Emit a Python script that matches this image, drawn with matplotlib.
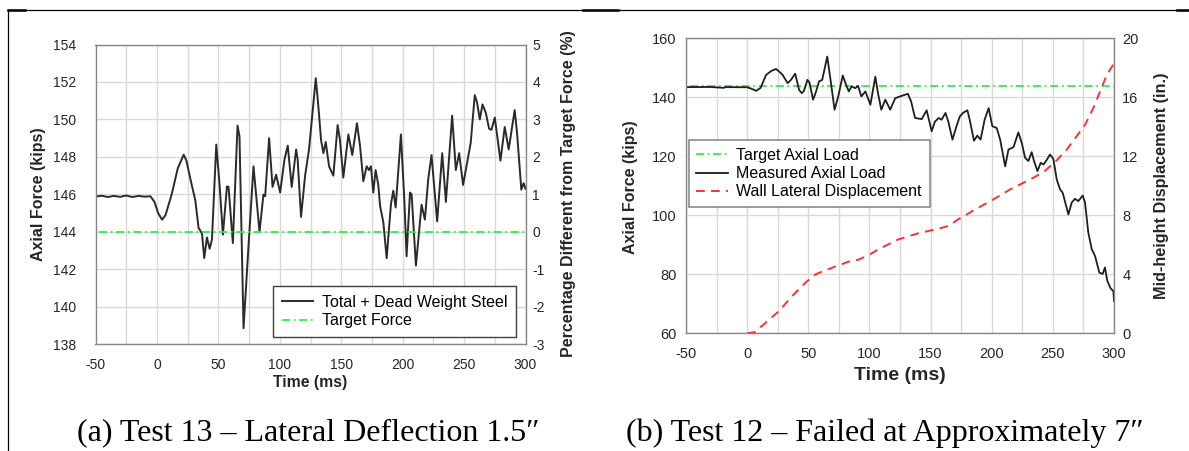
import matplotlib
matplotlib.use('Agg')
import matplotlib.pyplot as plt
from matplotlib.lines import Line2D

plt.rcParams['font.family'] = ['Liberation Sans', 'DejaVu Sans']
plt.rcParams['axes.unicode_minus'] = False

# (a) Test 13: time (ms) vs axial force (kips)
t13 = [-50, -45, -40, -35, -30, -25, -20, -15, -10, -5.3, -2, 1, 4.2, 7, 12, 17, 21.8, 24, 28,
       31.2, 33.9, 35, 36.7, 38.5, 40.7, 42.9, 44.8, 48.3, 51.0, 53.7, 57.0, 58.3, 61.8, 65.6,
       67.2, 70.5, 74.5, 78.6, 83.5, 86.7, 88.1, 91.3, 94.1, 97.0, 100.3, 103.8, 106.5, 109.7,
       113.3, 114.5, 117.3, 120.6, 123.8, 129.3, 131.4, 133.6, 135.5, 137.4, 140.1, 143.6, 147.1,
       149.0, 151.7, 155.8, 159.0, 162.8, 165.3, 168.0, 170.7, 172.6, 174.2, 176.1, 178.0, 180.2,
       181.6, 184.3, 187.0, 190.5, 192.4, 194.3, 198.6, 201.3, 203.2, 206.0, 207.3, 210.8, 215.4,
       218.1, 220.8, 223.5, 228.1, 232.2, 235.2, 240.3, 243.3, 246.0, 249.2, 252.5, 255.4, 258.7,
       260.6, 262.8, 265.0, 267.7, 270.4, 272.3, 275.0, 279.6, 283.1, 286.3, 291.2, 293.1, 296.6,
       298.5, 300]
f13 = [145.88, 145.93, 145.86, 145.92, 145.87, 145.94, 145.86, 145.92, 145.88, 145.9, 145.6,
       145.0, 144.65, 144.9, 146.0, 147.4, 148.12, 147.8, 146.6, 145.7, 144.2, 144.1, 143.9, 142.6,
       143.7, 143.1, 143.6, 148.66, 146.5, 143.85, 146.43, 146.4, 143.4, 149.67, 149.1, 138.86,
       143.2, 147.5, 144.0, 145.99, 145.9, 149.0, 146.4, 147.05, 146.1, 147.86, 148.6, 146.4,
       148.4, 147.9, 144.8, 147.0, 148.4, 152.2, 150.7, 148.9, 148.2, 148.8, 147.5, 147.0, 149.7,
       148.9, 146.9, 149.2, 148.1, 149.8, 148.6, 146.7, 147.5, 147.3, 147.5, 146.1, 147.3, 146.5,
       145.4, 144.5, 142.6, 145.5, 146.2, 145.3, 149.2, 145.8, 142.7, 146.1, 146.0, 142.2, 145.45,
       144.65, 146.8, 148.1, 144.56, 148.2, 145.6, 150.2, 147.3, 148.2, 146.5, 147.7, 148.75,
       151.3, 150.9, 150.0, 150.8, 150.35, 149.5, 149.45, 150.1, 147.8, 149.6, 148.4, 150.5,
       149.3, 146.25, 146.6, 146.3]

# (b) Test 12: measured axial load
t12 = [-50, -30, -19, -18, 0, 3, 7.4, 11, 15.5, 20, 23.6, 26, 29.0, 33.1, 36, 39.3, 42.5, 44.7,
       46.5, 49.3, 51, 53.9, 56, 58.8, 61.4, 65.5, 68.2, 71.5, 74.5, 78.2, 80.4, 83.1, 85.5, 88.5,
       90.7, 93.4, 96.7, 100.8, 104.8, 107.0, 109.7, 113.0, 117.0, 121.1, 125.1, 131.4, 134.1,
       137.3, 142.7, 146.8, 150.9, 153.6, 156.8, 159, 162.2, 164.5, 167.9, 171.2, 173.9, 176.5,
       180.1, 182, 185.5, 188.2, 190.9, 194.2, 197.5, 200.5, 204.1, 206.9, 211.0, 213.7, 217.8,
       221.8, 224.6, 227.3, 230, 232.7, 234.6, 237.4, 240.1, 242.3, 244.4, 247.7, 250.4, 253.2,
       255.9, 258, 262.7, 265.4, 268.1, 270.8, 274.4, 276.3, 279.0, 281.8, 284.5, 288.0, 290.7,
       292.6, 294.5, 297.3, 299.5, 300]
f12 = [143.45, 143.5, 143.2, 143.45, 143.4, 143.0, 142.2, 143.2, 147.6, 149.0, 149.6, 148.8,
       147.6, 144.8, 146.0, 148.0, 142.5, 141.4, 142.2, 145.9, 145.0, 139.2, 141.5, 145.4, 145.9,
       153.8, 145.9, 135.8, 140.3, 147.4, 144.8, 142.0, 143.7, 143.1, 143.9, 140.3, 142.0, 137.5,
       147.0, 141.4, 135.8, 139.2, 135.8, 139.7, 140.3, 141.2, 138.6, 133.0, 132.6, 135.6, 128.5,
       131.8, 133.0, 132.4, 134.7, 131.8, 125.65, 130.2, 133.5, 134.7, 135.6, 132.4, 125.3, 127.0,
       125.65, 132.4, 136.35, 130.2, 129.6, 125.65, 116.6, 122.3, 123.1, 128.1, 124.5, 119.5,
       118.4, 121.4, 118.4, 115.0, 117.8, 117.2, 118.4, 120.6, 119.1, 112.1, 108.8, 107.7, 100.3,
       104.3, 105.6, 104.8, 106.7, 104.3, 94.1, 88.5, 86.2, 80.6, 80.1, 82.3, 77.8, 75.2, 74.3,
       70.9]

# (b) Test 12: wall lateral displacement (in.)
t_disp = [0, 6, 15.5, 26.3, 37.1, 47.9, 56.0, 61.4, 72.3, 83.1, 91.3, 99.3, 107.5, 123.8, 140,
          156.3, 164.4, 172.5, 188.8, 202.3, 215, 231.4, 242.3, 253.2, 261.3, 269.5, 276.3, 283.1,
          288.6, 294.0, 300]
disp = [0, 0.07, 0.74, 1.53, 2.55, 3.45, 4.0, 4.19, 4.53, 4.86, 5.0, 5.3, 5.7, 6.37, 6.78, 7.09,
        7.27, 7.72, 8.5, 9.12, 9.75, 10.43, 10.92, 11.73, 12.45, 13.36, 14.14, 15.27, 16.4, 17.5,
        18.3]

target = 144
x_ticks = [-50, 0, 50, 100, 150, 200, 250, 300]
x_grid = list(range(-50, 301, 25))

W, H = 1189, 451
fig = plt.figure(figsize=(W / 100, H / 100), dpi=100)


def box(x0, x1, ytop, ybot):
    return [x0 / W, 1 - ybot / H, (x1 - x0) / W, (ybot - ytop) / H]


GRID = '#d9d9d9'
SPINE = '#868686'
TXT = '#262626'
GREEN = '#33ee44'
BLACK = '#1e1e1e'
RED = '#ff3030'


def style(ax):
    ax.set_xlim(-50, 300)
    ax.set_xticks(x_ticks)
    ax.set_xticks(x_grid, minor=True)
    ax.grid(True, which='both', axis='x', color=GRID, lw=1)
    ax.grid(True, which='major', axis='y', color=GRID, lw=1)
    ax.set_axisbelow(True)
    ax.tick_params(which='both', length=0, colors=TXT, labelsize=10)
    for s in ax.spines.values():
        s.set_color(SPINE)
        s.set_linewidth(1)


# ---- (a) ----
ax1 = fig.add_axes(box(95.5, 525.5, 44.5, 344.3))
style(ax1)
ax1.set_ylim(138, 154)
ax1.set_yticks(range(138, 155, 2))
ax1.tick_params(axis='y', pad=14)
ax1.tick_params(axis='x', pad=10)
l1, = ax1.plot(t13, f13, color='#2a2a2a', lw=1.4, label='Total + Dead Weight Steel')
l2, = ax1.plot([-47, 300], [target, target], color=GREEN, lw=1.3,
               dashes=[4.5, 2, 1, 2], label='Target Force')
ax1b = ax1.twinx()
ax1b.set_ylim(-3, 5)
ax1b.set_yticks(range(-3, 6))
ax1b.tick_params(length=0, colors=TXT, labelsize=10, pad=5)
for s in ax1b.spines.values():
    s.set_visible(False)
ax1.legend(handles=[l1, l2], loc='upper left', bbox_to_anchor=(273 / W, 1 - 286 / H),
           bbox_transform=fig.transFigure, borderaxespad=0, fontsize=11.5, fancybox=False,
           edgecolor='#404040', framealpha=1, borderpad=0.55, labelspacing=0.22,
           handlelength=1.95, handletextpad=0.55).get_frame().set_linewidth(1)

fig.text(38.3 / W, 1 - 194 / H, 'Axial Force (kips)', rotation=90, ha='center', va='center',
         fontsize=11.5, fontweight='bold', color=TXT)
fig.text(568 / W, 1 - 194 / H, 'Percentage Different from Target Force (%)', rotation=90,
         ha='center', va='center', fontsize=11.5, fontweight='bold', color=TXT)
fig.text(310.5 / W, 1 - 383 / H, 'Time (ms)', ha='center', va='center', fontsize=11.3,
         fontweight='bold', color=TXT)

# ---- (b) ----
ax2 = fig.add_axes(box(686, 1114, 38.3, 333.3))
style(ax2)
ax2.set_ylim(60, 160)
ax2.set_yticks(range(60, 161, 20))
ax2.tick_params(axis='y', pad=7, labelsize=10.5)
ax2.tick_params(axis='x', pad=10, labelsize=10.5)
g, = ax2.plot([-47, 300], [target, target], color=GREEN, lw=1.3,
              dashes=[4.5, 2, 1, 2], label='Target Axial Load')
m, = ax2.plot(t12, f12, color=BLACK, lw=1.3, label='Measured Axial Load')
ax2b = ax2.twinx()
ax2b.set_ylim(0, 20)
ax2b.set_yticks(range(0, 21, 4))
ax2b.tick_params(length=0, colors=TXT, labelsize=10.5, pad=6)
for s in ax2b.spines.values():
    s.set_visible(False)
r, = ax2b.plot(t_disp, disp, color=RED, lw=1.4, dashes=[4.5, 3.2],
               label='Wall Lateral Displacement')
ax2b.legend(handles=[g, m, r], loc='upper left', bbox_to_anchor=(688.5 / W, 1 - 140 / H),
            bbox_transform=fig.transFigure, borderaxespad=0, fontsize=11.5, fancybox=False,
            edgecolor='#8c8c8c', framealpha=1, borderpad=0.5, labelspacing=0.2,
            handlelength=1.95, handletextpad=0.55).get_frame().set_linewidth(1.2)

fig.text(631 / W, 1 - 187.5 / H, 'Axial Force (kips)', rotation=90, ha='center', va='center',
         fontsize=11.5, fontweight='bold', color=TXT)
fig.text(1161.7 / W, 1 - 186 / H, 'Mid-height Displacement (in.)', rotation=90, ha='center',
         va='center', fontsize=11.7, fontweight='bold', color=TXT)
fig.text(900 / W, 1 - 375 / H, 'Time (ms)', ha='center', va='center', fontsize=14,
         fontweight='bold', color=TXT)

# captions
serif = ['Liberation Serif', 'DejaVu Serif']
fig.text(77 / W, 1 - 433 / H, '(a) Test 13 \u2013 Lateral Deflection 1.5\u2033', ha='left',
         va='center', fontsize=23, family=serif)
fig.text(626 / W, 1 - 433 / H, '(b) Test 12 \u2013 Failed at Approximately 7\u2033', ha='left',
         va='center', fontsize=23, family=serif)

# table border lines
ytop = 1 - 9.8 / H
fig.add_artist(Line2D([8 / W, 1], [ytop, ytop], color='black', lw=0.9))
fig.add_artist(Line2D([8.3 / W, 8.3 / W], [0, ytop], color='black', lw=0.9))
for a, b in [(8, 25), (583, 618), (1177, 1189)]:
    fig.add_artist(Line2D([a / W, b / W], [ytop, ytop], color='black', lw=1.8))

fig.savefig('out.png', dpi=100)
